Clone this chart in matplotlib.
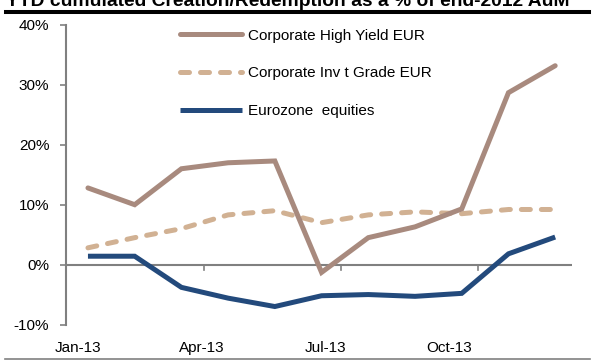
import matplotlib
matplotlib.use("Agg")
import matplotlib.pyplot as plt
import numpy as np

plt.rcParams['font.family'] = ['Liberation Sans', 'DejaVu Sans']

months = ['Jan-13', 'Feb-13', 'Mar-13', 'Apr-13', 'May-13', 'Jun-13',
          'Jul-13', 'Aug-13', 'Sep-13', 'Oct-13', 'Nov-13']
high_yield = [12.8, 10.0, 16.0, 17.0, 17.3, -1.3, 4.5, 6.3, 9.3, 28.7, 33.2]
invt_grade = [2.8, 4.5, 6.0, 8.3, 9.0, 7.0, 8.3, 8.8, 8.5, 9.2, 9.2]
equities = [1.4, 1.4, -3.8, -5.6, -7.0, -5.2, -5.0, -5.3, -4.8, 1.8, 4.6]
series_names = ['Corporate High Yield EUR', 'Corporate Inv t Grade EUR', 'Eurozone  equities']
yticks = [-10, 0, 10, 20, 30, 40]
title = 'YTD cumulated Creation/Redemption as a % of end-2012 AuM'

W, H = 593, 360
fig = plt.figure(figsize=(W / 100, H / 100), dpi=100)
ax = fig.add_axes([66 / W, (H - 324.5) / H, (572 - 66) / W, (324.5 - 25) / H])

x = np.arange(len(months))
c_hy = '#A88A7E'
c_ig = '#D1B193'
c_eq = '#234A7C'
lw = 3.6

ax.plot(x, high_yield, color=c_hy, lw=lw, solid_capstyle='round', solid_joinstyle='miter',
        label=series_names[0], zorder=3)
ax.plot(x, invt_grade, color=c_ig, lw=lw, dashes=(1.8, 2.2), dash_capstyle='round',
        label=series_names[1], zorder=2)
ax.plot(x, equities, color=c_eq, lw=lw, solid_capstyle='butt', solid_joinstyle='miter',
        label=series_names[2], zorder=3)

ax.set_ylim(-10, 40)
ax.set_xlim(-0.47, 10.36)

ax.axhline(0, color='#808080', lw=1.5, zorder=1)
for tx in [2.48, 5.42, 8.35]:
    ax.plot([tx, tx], [0, -0.9], color='#808080', lw=1.2, zorder=1)

for s in ['top', 'right', 'bottom']:
    ax.spines[s].set_visible(False)
ax.spines['left'].set_color('#808080')
ax.spines['left'].set_linewidth(1.5)

ax.set_yticks(yticks)
ax.set_yticklabels([f'{v}%' for v in yticks])
ax.tick_params(axis='y', colors='#808080', length=4, width=1.2, pad=8, labelsize=11,
               labelcolor='black')

label_pos = np.linspace(-0.21, 7.73, 4)
ax.set_xticks(label_pos)
ax.set_xticklabels(months[::3])
ax.tick_params(axis='x', length=0, pad=12, labelsize=11, labelcolor='black')

leg = ax.legend(loc='upper left', bbox_to_anchor=(172 / W, (H - 21) / H),
                bbox_transform=fig.transFigure, frameon=False, fontsize=11,
                handlelength=4.1, handletextpad=0.35, labelspacing=1.55, borderpad=0)

# title (top clipped as in the reference) and rules
t = fig.text(6 / W, (H - 6.5) / H, title, fontsize=15, fontweight='bold',
             va='baseline', ha='left', color='black')
fig.canvas.draw()
bb = t.get_window_extent()
t.set_fontsize(15 * 567 / bb.width)
fig.add_artist(plt.Line2D([6 / W, 589 / W], [(H - 11.5) / H] * 2, color='black', lw=2.9,
                          transform=fig.transFigure))
fig.add_artist(plt.Line2D([5 / W, 590 / W], [(H - 358.5) / H] * 2, color='#808080', lw=1.2,
                          transform=fig.transFigure))

fig.savefig('out.png', dpi=100)
